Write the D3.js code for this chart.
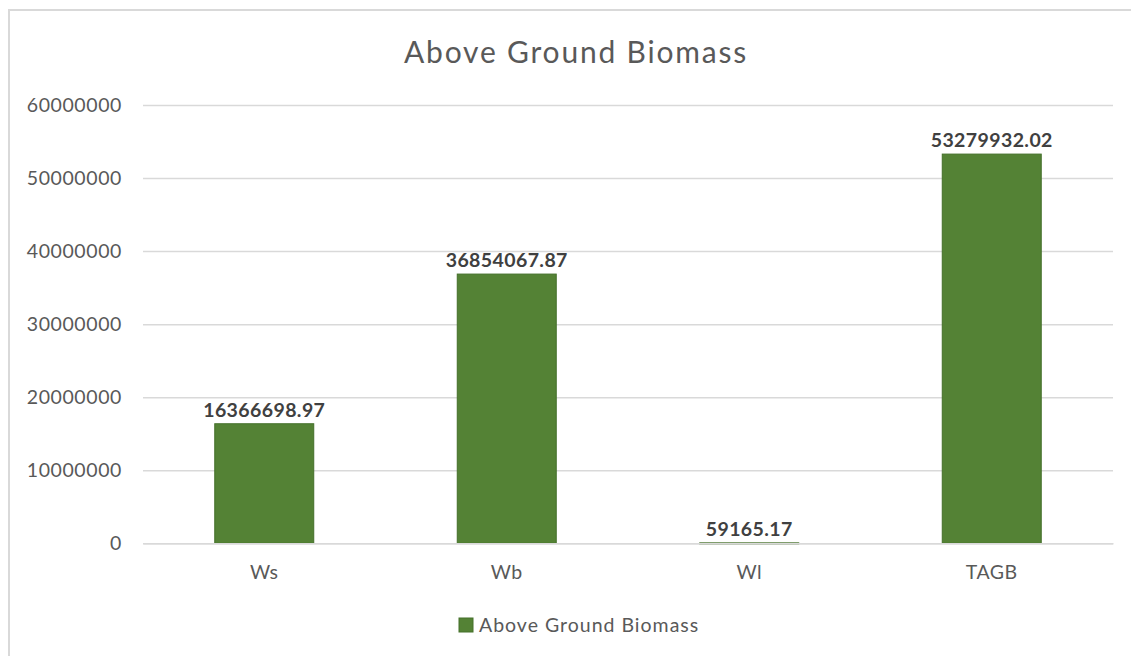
<!DOCTYPE html>
<html>
<head>
<meta charset="utf-8">
<script src="https://cdn.jsdelivr.net/npm/d3@7"></script>
<style>
  html, body { margin: 0; padding: 0; background: #fff; }
  svg { display: block; font-family: Lato, "Noto Sans", sans-serif; }
</style>
</head>
<body>
<svg id="chart" width="1131" height="656"></svg>
<script>
const categories = ["Ws", "Wb", "Wl", "TAGB"];
const values = [16366698.97, 36854067.87, 59165.17, 53279932.02];
const valueLabels = ["16366698.97", "36854067.87", "59165.17", "53279932.02"];
const yTicks = [0, 10000000, 20000000, 30000000, 40000000, 50000000, 60000000];
const seriesName = "Above Ground Biomass";
const chartTitle = "Above Ground Biomass";

const svg = d3.select("#chart");

// chart area frame
svg.append("rect")
  .attr("x", 9).attr("y", 10)
  .attr("width", 1160).attr("height", 700)
  .attr("fill", "#fff")
  .attr("stroke", "#d9d9d9")
  .attr("stroke-width", 2);

const plot = { left: 143, right: 1113, top: 105, bottom: 543.3 };

const x = d3.scaleBand()
  .domain(categories)
  .range([plot.left, plot.right])
  .paddingInner(0.5918)
  .paddingOuter(0.2959);

const y = d3.scaleLinear()
  .domain([0, 60000000])
  .range([plot.bottom, plot.top]);

// gridlines + y labels
const yAxis = d3.axisLeft(y)
  .tickValues(yTicks)
  .tickFormat(d3.format("d"))
  .tickSize(-(plot.right - plot.left))
  .tickPadding(21);

const gy = svg.append("g")
  .attr("transform", `translate(${plot.left},0)`)
  .call(yAxis);
gy.select(".domain").remove();
gy.selectAll(".tick line")
  .attr("stroke", "#d9d9d9")
  .attr("stroke-width", 1.5);
gy.selectAll(".tick text")
  .attr("fill", "#595959")
  .attr("font-size", "19.5px")
  .attr("letter-spacing", "0.6px")
  .attr("font-family", "Lato, sans-serif");

// bars
svg.append("g").selectAll("rect")
  .data(values)
  .join("rect")
  .attr("x", (d, i) => x(categories[i]))
  .attr("y", d => y(d))
  .attr("width", x.bandwidth())
  .attr("height", d => Math.max(1, y(0) - y(d)))
  .attr("fill", "#548235")
  .attr("stroke", "#44702a")
  .attr("stroke-width", 1);

// data labels
svg.append("g").selectAll("text")
  .data(values)
  .join("text")
  .attr("x", (d, i) => x(categories[i]) + x.bandwidth() / 2)
  .attr("y", d => y(d) - 7)
  .attr("text-anchor", "middle")
  .attr("font-size", "19.5px")
  .attr("font-weight", "bold")
  .attr("letter-spacing", "0.4px")
  .attr("fill", "#404040")
  .text((d, i) => valueLabels[i]);

// x axis
const xAxis = d3.axisBottom(x).tickSize(0).tickPadding(22);
const gx = svg.append("g")
  .attr("transform", `translate(0,${plot.bottom})`)
  .call(xAxis);
gx.select(".domain")
  .attr("stroke", "#d9d9d9")
  .attr("stroke-width", 1.5);
gx.selectAll(".tick text")
  .attr("fill", "#595959")
  .attr("font-size", "19.5px")
  .attr("letter-spacing", "0.5px")
  .attr("font-family", "Lato, sans-serif");

// title
svg.append("text")
  .attr("x", 576)
  .attr("y", 63)
  .attr("text-anchor", "middle")
  .attr("font-size", "30px")
  .attr("letter-spacing", "1.8px")
  .attr("fill", "#595959")
  .text(chartTitle);

// legend
const lg = svg.append("g");
lg.append("rect")
  .attr("x", 459).attr("y", 618)
  .attr("width", 14).attr("height", 14)
  .attr("fill", "#548235")
  .attr("stroke", "#44702a");
lg.append("text")
  .attr("x", 479)
  .attr("y", 632)
  .attr("font-size", "19.5px")
  .attr("letter-spacing", "1px")
  .attr("fill", "#595959")
  .text(seriesName);
</script>
</body>
</html>
